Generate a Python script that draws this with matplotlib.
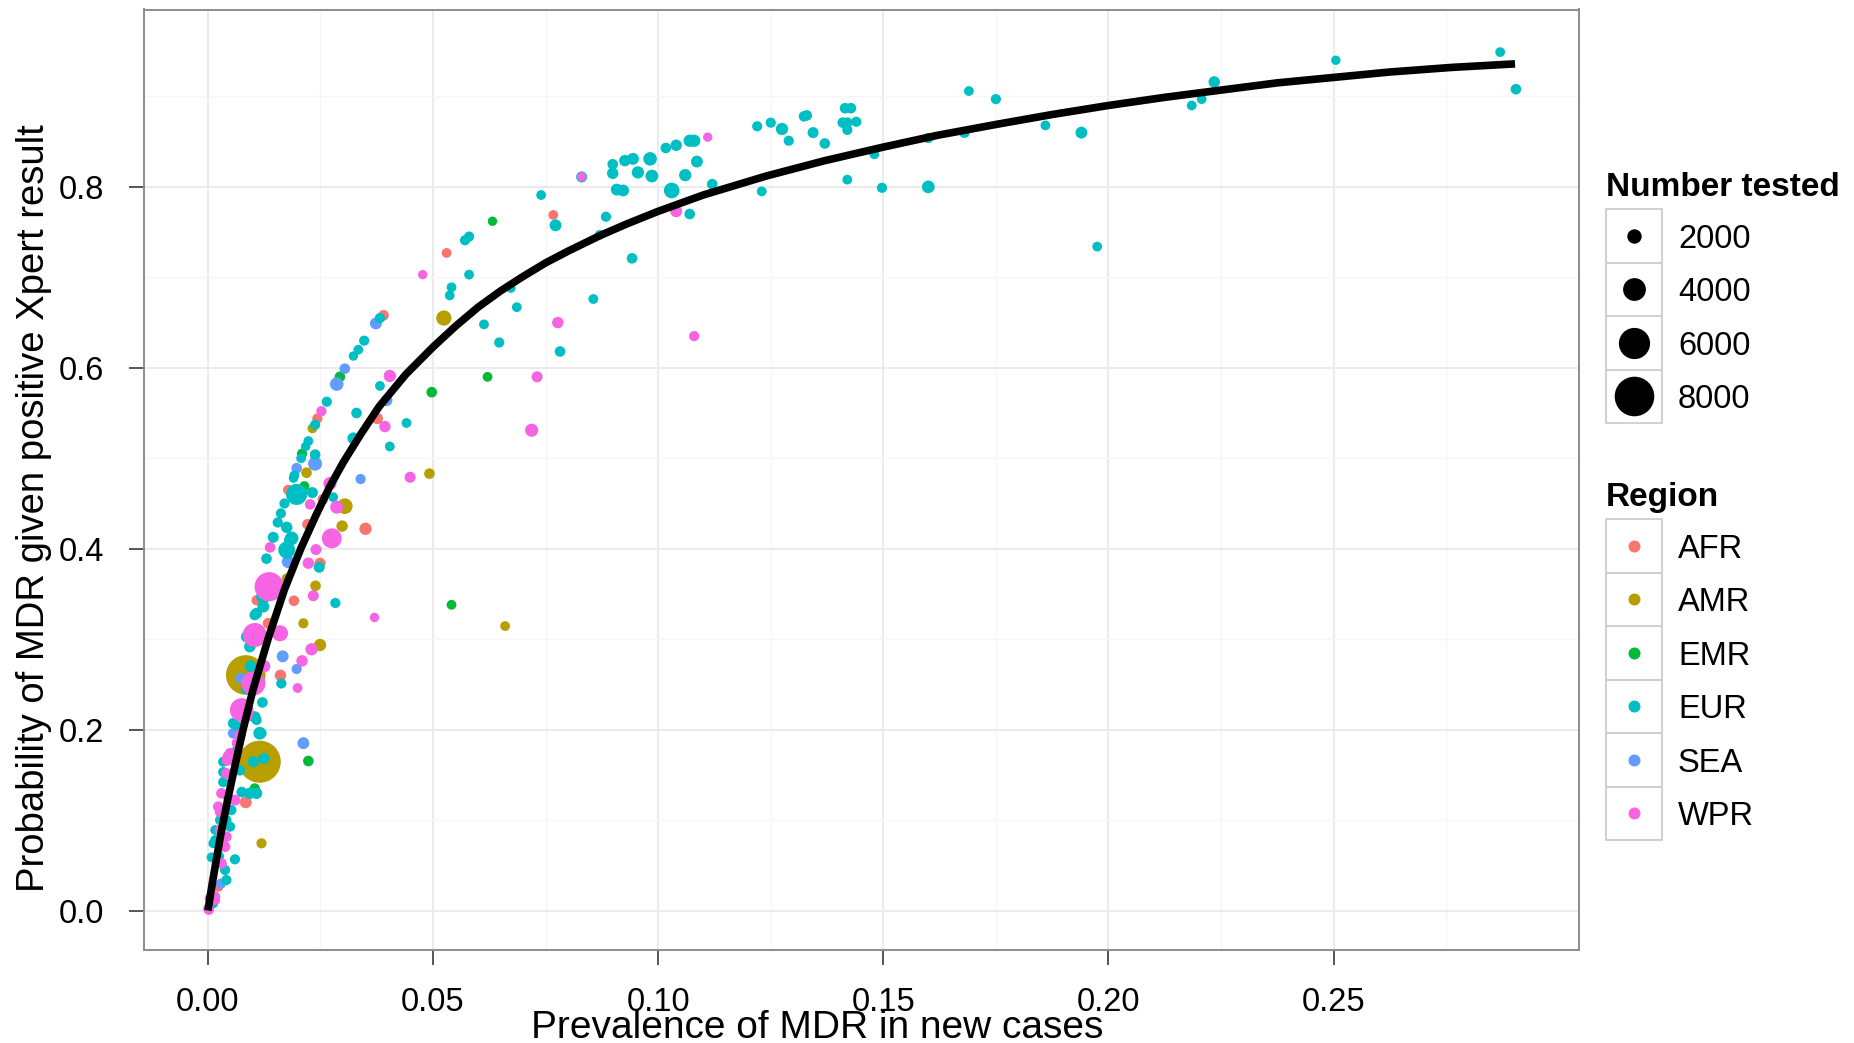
import matplotlib
matplotlib.use("Agg")
import matplotlib.pyplot as plt
from matplotlib.patches import Rectangle

plt.rcParams['font.family'] = ['Liberation Sans', 'DejaVu Sans']

# (prevalence of MDR, probability of MDR given positive result, number tested)
AFR = [(0.0767, 0.769, 900), (0.053, 0.727, 900), (0.039, 0.658, 1100), (0.0243, 0.544, 1000),
       (0.0178, 0.465, 1000), (0.0376, 0.544, 1300), (0.035, 0.422, 1500), (0.0221, 0.427, 1100),
       (0.0255, 0.4545, 1100), (0.0249, 0.384, 1200), (0.0191, 0.3425, 1100), (0.0134, 0.3175, 1200),
       (0.0108, 0.343, 1000), (0.0161, 0.260, 1300), (0.0084, 0.1196, 1400), (0.0023, 0.0263, 1000)]

AMR = [(0.0524, 0.655, 2200), (0.0232, 0.533, 900), (0.0492, 0.483, 1100), (0.0219, 0.484, 1100),
       (0.0304, 0.447, 2300), (0.0298, 0.425, 1300), (0.066, 0.3145, 900), (0.0175, 0.367, 1000),
       (0.0239, 0.359, 1100), (0.0212, 0.3175, 1000), (0.0249, 0.2935, 1500), (0.0084, 0.2604, 8000),
       (0.0115, 0.1645, 8600), (0.0119, 0.0743, 1000)]

EMR = [(0.0632, 0.762, 800), (0.0621, 0.590, 900), (0.0497, 0.573, 1100), (0.0293, 0.590, 1100),
       (0.0209, 0.505, 1000), (0.0214, 0.469, 1000), (0.0541, 0.338, 900), (0.0223, 0.1653, 1100),
       (0.0104, 0.135, 1000)]

EUR = [(0.0899, 0.825, 1100), (0.0899, 0.815, 1300), (0.0926, 0.829, 1300), (0.0944, 0.831, 1400),
       (0.0982, 0.831, 1800), (0.0955, 0.816, 1500), (0.0986, 0.812, 1600), (0.0908, 0.797, 1400),
       (0.0922, 0.796, 1400), (0.103, 0.796, 2300), (0.0884, 0.767, 1000), (0.1017, 0.843, 1100),
       (0.104, 0.846, 1300), (0.107, 0.851, 1500), (0.108, 0.851, 1500), (0.1086, 0.828, 1400),
       (0.106, 0.813, 1500), (0.112, 0.803, 1100), (0.107, 0.770, 1100), (0.0942, 0.721, 1100),
       (0.122, 0.867, 1000), (0.125, 0.871, 1000), (0.1275, 0.864, 1500), (0.129, 0.851, 1000),
       (0.1324, 0.878, 1100), (0.133, 0.879, 1100), (0.1344, 0.860, 1200), (0.137, 0.848, 1100),
       (0.123, 0.795, 900), (0.1415, 0.887, 1100), (0.1428, 0.887, 1100), (0.141, 0.871, 1100),
       (0.142, 0.871, 1100), (0.144, 0.872, 1000), (0.142, 0.863, 1000), (0.142, 0.808, 900),
       (0.148, 0.836, 900), (0.1497, 0.799, 1000), (0.160, 0.800, 1600), (0.160, 0.854, 1000),
       (0.168, 0.860, 1100), (0.169, 0.906, 900), (0.175, 0.897, 1000), (0.186, 0.868, 900),
       (0.194, 0.860, 1400), (0.1975, 0.734, 900), (0.2185, 0.890, 900), (0.2207, 0.897, 900),
       (0.2235, 0.916, 1300), (0.2505, 0.940, 800), (0.287, 0.949, 900), (0.2905, 0.908, 1100),
       (0.074, 0.791, 900), (0.0772, 0.7575, 1400), (0.083, 0.811, 1200), (0.087, 0.747, 900),
       (0.0571, 0.741, 1000), (0.058, 0.745, 1000), (0.058, 0.703, 900), (0.0541, 0.689, 900),
       (0.0537, 0.680, 900), (0.0673, 0.688, 800), (0.0686, 0.667, 900), (0.0613, 0.648, 900),
       (0.0647, 0.628, 1000), (0.0856, 0.676, 900), (0.0782, 0.618, 1100), (0.0382, 0.655, 1000),
       (0.0347, 0.630, 1000), (0.0334, 0.620, 900), (0.0323, 0.613, 800), (0.0264, 0.5625, 1000),
       (0.0238, 0.537, 1000), (0.0223, 0.519, 900), (0.0217, 0.513, 800), (0.0207, 0.500, 900),
       (0.0192, 0.481, 900), (0.019, 0.478, 800), (0.0238, 0.504, 1100), (0.0197, 0.460, 3600),
       (0.0232, 0.462, 1200), (0.0382, 0.580, 900), (0.033, 0.550, 1100), (0.0441, 0.539, 900),
       (0.0404, 0.513, 900), (0.0323, 0.522, 1400), (0.0278, 0.457, 900), (0.0283, 0.340, 1000),
       (0.017, 0.450, 1000), (0.0162, 0.439, 1000), (0.0155, 0.429, 1000), (0.0175, 0.4236, 1300),
       (0.0145, 0.4126, 1200), (0.0186, 0.4115, 1800), (0.0175, 0.3986, 2600), (0.013, 0.389, 1100),
       (0.0247, 0.3795, 1200), (0.0182, 0.4096, 1400), (0.0123, 0.347, 2000), (0.0108, 0.3286, 1200),
       (0.0123, 0.336, 1400), (0.0104, 0.3267, 1100), (0.0093, 0.2917, 1300), (0.0086, 0.3027, 1300),
       (0.0163, 0.251, 1000), (0.0121, 0.230, 1100), (0.0067, 0.203, 1200), (0.0104, 0.214, 1300),
       (0.0115, 0.196, 1600), (0.0124, 0.168, 1200), (0.0101, 0.1645, 1200), (0.0034, 0.153, 1000),
       (0.0108, 0.1296, 1300), (0.0093, 0.1296, 1300), (0.0041, 0.100, 1000), (0.0016, 0.078, 900),
       (0.006, 0.0566, 1000), (0.0008, 0.0588, 900), (0.003, 0.052, 900), (0.0041, 0.0337, 1000),
       (0.0056, 0.207, 1100), (0.0108, 0.2106, 1000), (0.0119, 0.196, 1000), (0.0034, 0.1645, 1000),
       (0.0071, 0.155, 1100), (0.0034, 0.142, 1000), (0.0075, 0.131, 1100), (0.0052, 0.111, 1000),
       (0.0027, 0.100, 1000), (0.0049, 0.0927, 1000), (0.0016, 0.089, 900), (0.0012, 0.0743, 900),
       (0.0038, 0.0448, 1000), (0.0012, 0.008, 900), (0.0095, 0.270, 1400), (0.0085, 0.245, 1200),
       (0.006, 0.175, 1100), (0.0045, 0.125, 1000), (0.0025, 0.060, 900)]

SEA = [(0.0373, 0.649, 1400), (0.0304, 0.599, 1100), (0.0286, 0.582, 1800), (0.0197, 0.489, 1100),
       (0.0238, 0.494, 1900), (0.0397, 0.564, 1300), (0.0339, 0.477, 1000), (0.0178, 0.3856, 1600),
       (0.0166, 0.281, 1400), (0.0197, 0.267, 1000), (0.0073, 0.2567, 1200), (0.0212, 0.185, 1400),
       (0.0056, 0.196, 1100), (0.0029, 0.0297, 1000)]

WPR = [(0.083, 0.811, 800), (0.111, 0.855, 800), (0.104, 0.773, 1400), (0.108, 0.635, 1000),
       (0.0477, 0.703, 800), (0.0777, 0.650, 1300), (0.0731, 0.590, 1200), (0.0719, 0.531, 1700),
       (0.0449, 0.479, 1200), (0.0252, 0.552, 1000), (0.0404, 0.591, 1500), (0.0393, 0.535, 1300),
       (0.0271, 0.472, 1700), (0.0286, 0.446, 1700), (0.0275, 0.4115, 3300), (0.0227, 0.449, 1100),
       (0.0138, 0.4015, 1100), (0.0223, 0.384, 1300), (0.024, 0.399, 1200), (0.0136, 0.358, 5500),
       (0.0234, 0.348, 1200), (0.037, 0.324, 800), (0.016, 0.3065, 2400), (0.0104, 0.3046, 4300),
       (0.023, 0.2888, 1500), (0.0209, 0.276, 1300), (0.0101, 0.251, 4300), (0.0199, 0.246, 900),
       (0.0075, 0.2217, 4200), (0.0071, 0.194, 1300), (0.0045, 0.170, 1300), (0.0043, 0.166, 1200),
       (0.006, 0.122, 1200), (0.0027, 0.109, 1100), (0.0027, 0.089, 1100), (0.0004, 0.0135, 1000),
       (0.0002, 0.001, 1100), (0.0016, 0.0116, 1000), (0.0049, 0.1738, 1100), (0.0041, 0.1517, 1100),
       (0.003, 0.1296, 1100), (0.0023, 0.1148, 1100), (0.0041, 0.0816, 1100), (0.0038, 0.0705, 1100),
       (0.003, 0.052, 1100), (0.0016, 0.0153, 1000), (0.0001, 0.0024, 1000), (0.0085, 0.215, 1500),
       (0.0065, 0.185, 1200), (0.0125, 0.270, 1500)]

# model line
curve_x = [0.0, 0.001, 0.002, 0.003, 0.0044, 0.006, 0.0078, 0.010, 0.0134, 0.017, 0.0207,
           0.024, 0.027, 0.030, 0.034, 0.038, 0.044, 0.050, 0.055, 0.060, 0.065, 0.070,
           0.075, 0.080, 0.087, 0.093, 0.100, 0.110, 0.124, 0.137, 0.150, 0.162, 0.175,
           0.1875, 0.200, 0.2125, 0.225, 0.2375, 0.250, 0.2625, 0.276, 0.2903]
curve_y = [0.0, 0.031, 0.060, 0.088, 0.123, 0.160, 0.200, 0.244, 0.301, 0.355, 0.401,
           0.437, 0.468, 0.495, 0.527, 0.557, 0.593, 0.623, 0.646, 0.667, 0.685, 0.701,
           0.716, 0.729, 0.746, 0.759, 0.773, 0.791, 0.812, 0.829, 0.844, 0.857, 0.869,
           0.880, 0.890, 0.899, 0.907, 0.915, 0.921, 0.927, 0.932, 0.936]

region_names = ['AFR', 'AMR', 'EMR', 'EUR', 'SEA', 'WPR']
region_colors = ['#F8766D', '#B79F00', '#00BA38', '#00BFC4', '#619CFF', '#F564E3']
region_data = {'AFR': AFR, 'AMR': AMR, 'EMR': EMR, 'EUR': EUR, 'SEA': SEA, 'WPR': WPR}
draw_order = ['AMR', 'AFR', 'EMR', 'SEA', 'EUR', 'WPR']
size_breaks = [2000, 4000, 6000, 8000]

DPI = 100
W, H = 1854, 1043


def marker_area(n):
    # diameter grows roughly linearly with number tested
    d_px = 6 + 0.0042 * n
    return (d_px * 72 / DPI) ** 2


fig = plt.figure(figsize=(W / DPI, H / DPI), dpi=DPI)
ax = fig.add_axes([144 / W, 1 - 949.5 / H, (1578.5 - 144) / W, (949.5 - 9.5) / H])

for name in draw_order:
    pts = region_data[name]
    col = region_colors[region_names.index(name)]
    ax.scatter([p[0] for p in pts], [p[1] for p in pts],
               s=[marker_area(p[2]) for p in pts], c=col, linewidths=0, zorder=2)

ax.plot(curve_x, curve_y, color='black', lw=5.5, solid_capstyle='butt',
        solid_joinstyle='round', zorder=3)

ax.set_xlim(-0.0142, 0.3044)
ax.set_ylim(-0.0431, 0.9961)
ax.set_xticks([0, 0.05, 0.10, 0.15, 0.20, 0.25])
ax.set_xticklabels(['0.00', '0.05', '0.10', '0.15', '0.20', '0.25'])
ax.set_xticks([0.025, 0.075, 0.125, 0.175, 0.225, 0.275], minor=True)
ax.set_yticks([0, 0.2, 0.4, 0.6, 0.8])
ax.set_yticklabels(['0.0', '0.2', '0.4', '0.6', '0.8'])
ax.set_yticks([0.1, 0.3, 0.5, 0.7, 0.9], minor=True)

ax.grid(which='major', color='#ebebeb', lw=1.5)
ax.grid(which='minor', color='#f6f6f6', lw=1.0)
ax.set_axisbelow(True)
for sp in ax.spines.values():
    sp.set_color('#8c8c8c')
    sp.set_linewidth(1.4)

ax.tick_params(which='major', direction='out', length=10.8, width=1.4, color='#555555',
               labelsize=23.5, labelcolor='black')
ax.tick_params(axis='x', which='major', pad=16)
ax.tick_params(axis='y', which='major', pad=18)
ax.tick_params(which='minor', length=0)

fig.text(817.6 / W, 1 - 1038 / H, 'Prevalence of MDR in new cases', ha='center', va='baseline',
         fontsize=28)
fig.text(44 / W, 1 - 508 / H, 'Probability of MDR given positive Xpert result', rotation=90,
         rotation_mode='anchor', ha='center', va='baseline', fontsize=27.5)

# legends drawn in pixel coordinates of the figure
lax = fig.add_axes([0, 0, 1, 1], zorder=5)
lax.set_xlim(0, W)
lax.set_ylim(H, 0)
lax.axis('off')

key_w, key_h = 56, 53.5
lax.text(1606, 196, 'Number tested', fontsize=24, fontweight='bold', va='baseline')
for i, n in enumerate(size_breaks):
    top = 209 + i * key_h
    lax.add_patch(Rectangle((1606, top), key_w, key_h, fc='white', ec='#d0d0d0', lw=1.4))
    lax.scatter([1606 + key_w / 2], [top + key_h / 2], s=marker_area(n), c='black', linewidths=0)
    lax.text(1678, top + key_h / 2 + 3.5, str(n), va='center', fontsize=23.5)

lax.text(1606, 506, 'Region', fontsize=24, fontweight='bold', va='baseline')
for i, (name, col) in enumerate(zip(region_names, region_colors)):
    top = 519 + i * key_h
    lax.add_patch(Rectangle((1606, top), key_w, key_h, fc='white', ec='#d0d0d0', lw=1.4))
    lax.scatter([1606 + key_w / 2], [top + key_h / 2], s=(12 * 72 / DPI) ** 2, c=col, linewidths=0)
    lax.text(1678, top + key_h / 2 + 3.5, name, va='center', fontsize=23.5)

fig.savefig('out.png', dpi=DPI)
